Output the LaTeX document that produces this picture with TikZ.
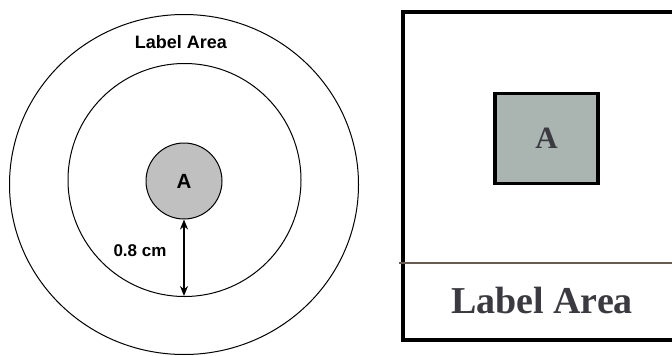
\documentclass[tikz,border=0pt]{standalone}
\usepackage{fontspec}
\setmainfont{Liberation Sans}
\newfontfamily\sansbf{Liberation Sans Bold}
\newfontfamily\serifbf{Liberation Serif Bold}
\usetikzlibrary{arrows.meta,shapes.geometric}
\definecolor{sqfill}{HTML}{AAB5B2}
\definecolor{txtdark}{HTML}{3A3A40}
\definecolor{brownline}{HTML}{6B5A50}
\definecolor{cgray}{HTML}{C0C0C0}
\tikzset{
  thinline/.style={draw=black, line width=1pt},
  sanslab/.style={font=\sansbf\fontsize{18}{20}\selectfont, text=black, inner sep=0pt},
  seriflab/.style={font=\serifbf\fontsize{38}{42}\selectfont, text=txtdark, inner sep=0pt},
}
\begin{document}
\begin{tikzpicture}[x=1pt,y=-1pt]
\useasboundingbox (0,0) rectangle (672,356);
\clip (0,0) rectangle (672,356);
% left figure
\node[thinline, ellipse, minimum width=349pt, minimum height=340pt, inner sep=0pt] (outer) at (184,184.5) {};
\node[thinline, circle, minimum size=233pt, inner sep=0pt] (inner) at (184.5,180) {};
\node[thinline, circle, fill=cgray, minimum size=76pt, inner sep=0pt,
      font=\sansbf\fontsize{20.5}{24}\selectfont] (A1) at (184,181) {A};
\node[sanslab] (lab1) at (181,42) {Label Area};
\coordinate (ib) at (184,296);
\draw[line width=2pt, {Stealth[length=10pt,width=8pt]}-{Stealth[length=10pt,width=8pt]}] (A1.south) -- (ib);
\node[sanslab, font=\sansbf\fontsize{17}{20}\selectfont] (dist) at (140,251) {0.8 cm};
% right figure
\coordinate (rtl) at (403,12);
\coordinate (rbr) at (700,340);
\draw[line width=3.5pt] (rtl) rectangle (rbr);
\coordinate (hl) at (399,263);
\coordinate (hr) at (700,263);
\draw[brownline, line width=2pt] (hl) -- (hr);
\node[draw=black, line width=3.8pt, fill=sqfill, minimum width=103pt, minimum height=90pt, inner sep=0pt,
      font=\serifbf\fontsize{31}{36}\selectfont, text=txtdark] (A2) at (546.5,138.5) {A};
\node[seriflab] (lab2) at (542,300) {Label Area};
\end{tikzpicture}
\end{document}
